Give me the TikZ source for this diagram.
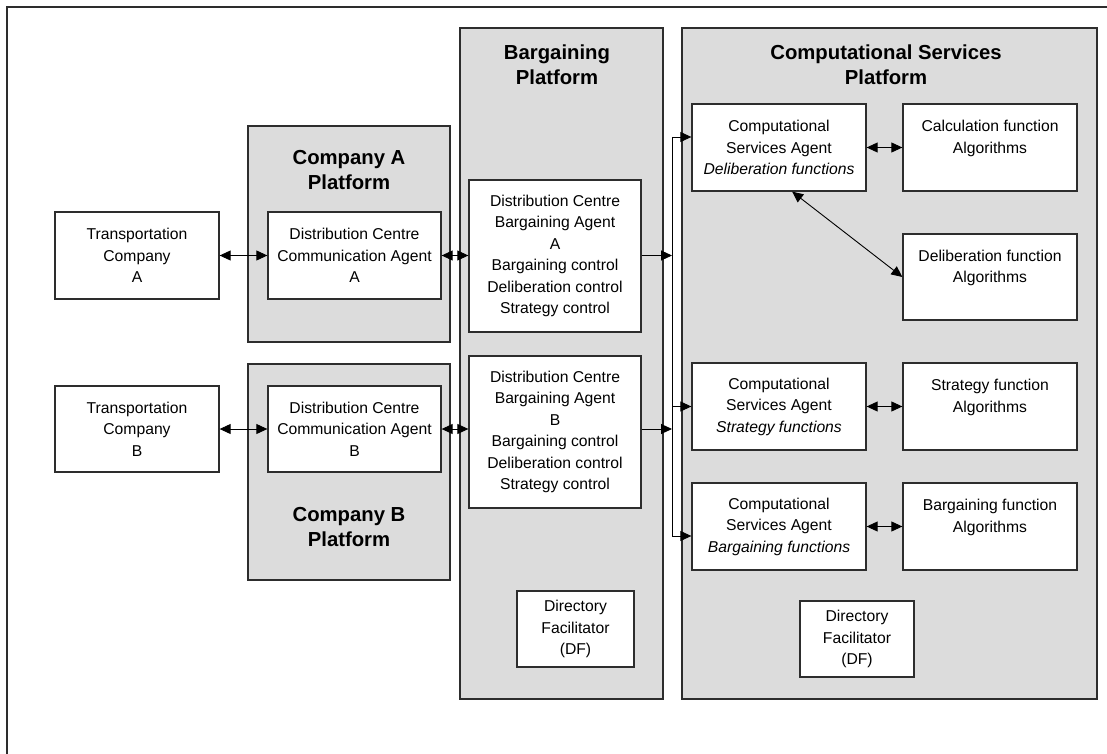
\documentclass[tikz,border=0pt]{standalone}
\usepackage{fontspec}
\setmainfont{Liberation Sans}
\usetikzlibrary{arrows.meta,calc}
\definecolor{platgray}{RGB}{220,220,220}
\definecolor{edge}{RGB}{45,45,45}
\tikzset{
  platform/.style={draw=edge, line width=1.4pt, fill=platgray, inner sep=0pt},
  agentbox/.style={draw=edge, line width=1.3pt, fill=white, inner sep=0pt, align=center,
    font=\fontsize{15.7}{21.5}\selectfont},
  title/.style={align=center, font=\fontsize{20.3}{25.5}\selectfont\bfseries},
  link/.style={draw=black, line width=0.9pt},
  tip/.tip={Triangle[length=11pt,width=10pt]},
  both/.style={link, tip-tip},
  one/.style={link, -tip},
}
\begin{document}
\begin{tikzpicture}[x=1pt,y=-1pt]
\useasboundingbox (0,0) rectangle (1107,754);
% outer frame
\draw[edge, line width=2pt] (7,754) -- (7,7) -- (1107,7);

% platforms
\node[platform, minimum width=202pt, minimum height=216pt] (platA) at (349,234) {};
\node[platform, minimum width=202pt, minimum height=216pt] (platB) at (349,472) {};
\node[platform, minimum width=203pt, minimum height=671pt] (platBarg) at (561.5,363.5) {};
\node[platform, minimum width=415pt, minimum height=671pt] (platComp) at (889.5,363.5) {};

% platform titles
\node[title] (titleA) at (349,170) {Company A\\Platform};
\node[title] (titleB) at (349,527) {Company B\\Platform};
\node[title] (titleBarg) at (557,64.5) {Bargaining\\Platform};
\node[title] (titleComp) at (886,64.5) {Computational Services\\Platform};

% transportation companies
\node[agentbox, minimum width=164pt, minimum height=87pt] (tcA) at (137,255.5) {Transportation\\Company\\A};
\node[agentbox, minimum width=164pt, minimum height=86pt] (tcB) at (137,429) {Transportation\\Company\\B};

% communication agents
\node[agentbox, minimum width=173pt, minimum height=87pt] (dccaA) at (354.5,255.5) {Distribution Centre\\Communication Agent\\A};
\node[agentbox, minimum width=173pt, minimum height=86pt] (dccaB) at (354.5,429) {Distribution Centre\\Communication Agent\\B};

% bargaining agents
\node[agentbox, minimum width=172pt, minimum height=152pt] (dcbaA) at (555,256) {Distribution Centre\\Bargaining Agent\\A\\Bargaining control\\Deliberation control\\Strategy control};
\node[agentbox, minimum width=172pt, minimum height=152pt] (dcbaB) at (555,432) {Distribution Centre\\Bargaining Agent\\B\\Bargaining control\\Deliberation control\\Strategy control};

% directory facilitators
\node[agentbox, minimum width=117pt, minimum height=76pt] (dfBarg) at (575.5,629) {Directory\\Facilitator\\(DF)};
\node[agentbox, minimum width=114pt, minimum height=76pt] (dfComp) at (857,639) {Directory\\Facilitator\\(DF)};

% computational services agents
\node[agentbox, minimum width=174pt, minimum height=87pt] (csaD) at (779,147.5) {Computational\\Services Agent\\\textit{Deliberation functions}};
\node[agentbox, minimum width=174pt, minimum height=87pt] (csaS) at (779,406.5) {Computational\\Services Agent\\\textit{Strategy functions}};
\node[agentbox, minimum width=174pt, minimum height=87pt] (csaB) at (779,526.5) {Computational\\Services Agent\\\textit{Bargaining functions}};

% algorithm boxes
\node[agentbox, minimum width=174pt, minimum height=87pt] (algCalc) at (990,147.5) {Calculation function\\Algorithms\\~};
\node[agentbox, minimum width=174pt, minimum height=86pt] (algDelib) at (990,277) {Deliberation function\\Algorithms\\~};
\node[agentbox, minimum width=174pt, minimum height=87pt] (algStrat) at (990,406.5) {Strategy function\\Algorithms\\~};
\node[agentbox, minimum width=174pt, minimum height=87pt] (algBarg) at (990,526.5) {Bargaining function\\Algorithms\\~};

% company links
\draw[both] (tcA.east) -- (dccaA.west);
\draw[both] (tcB.east) -- (dccaB.west);
\draw[both] (dccaA.east) -- (dccaA.east -| dcbaA.west);
\draw[both] (dccaB.east) -- (dccaB.east -| dcbaB.west);

% bus between the two platforms
\coordinate (busTop) at (672,137);
\coordinate (busBot) at (672,536);
\draw[link] (busTop) -- (busBot);
\draw[one] (dcbaA.east |- dccaA.east) -- (dccaA.east -| busTop);
\draw[one] (dcbaB.east |- dccaB.east) -- (dccaB.east -| busTop);
\draw[one] (busTop) -- (busTop -| csaD.west);
\draw[one] (csaS.west -| busTop) -- (csaS.west);
\draw[one] (busBot) -- (busBot -| csaB.west);

% agent to algorithm links
\draw[both] (csaD.east) -- (algCalc.west);
\draw[both] (csaS.east) -- (algStrat.west);
\draw[both] (csaB.east) -- (algBarg.west);
\draw[both] ($(csaD.south west)!0.575!(csaD.south east)$) -- (algDelib.west);
\end{tikzpicture}
\end{document}
